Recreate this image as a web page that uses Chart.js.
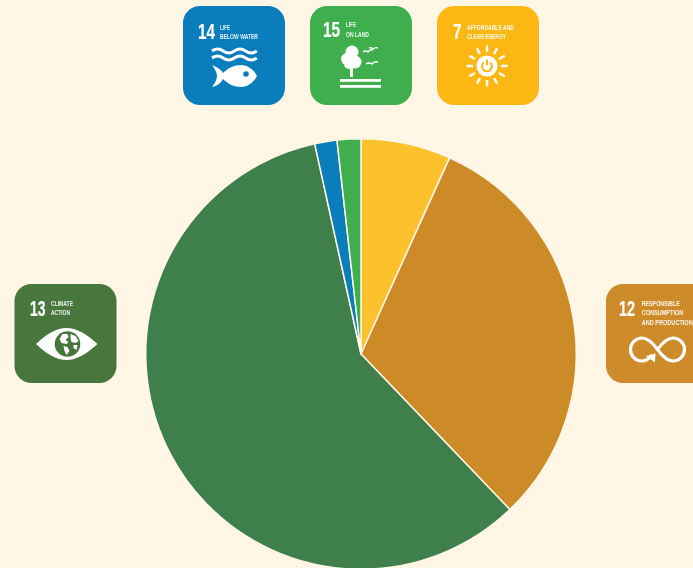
<!DOCTYPE html>
<html><head><meta charset="utf-8">
<script src="https://cdn.jsdelivr.net/npm/chart.js@4"></script>
<style>
html,body{margin:0;padding:0;width:693px;height:568px;overflow:hidden;background:#FFF6E5}
#c{position:absolute;left:0;top:0}
#tiles{position:absolute;left:0;top:0}
.n{font:bold 22px "Liberation Sans Narrow","Liberation Sans",sans-serif;fill:#fff;stroke:#fff;stroke-width:.2}
.l{font:bold 8px "Liberation Sans Narrow","Liberation Sans",sans-serif;fill:#fff;fill-opacity:.9}
</style></head><body>
<canvas id="c" width="693" height="600"></canvas>
<svg id="tiles" width="693" height="568" viewBox="0 0 693 568">
 <!-- 14 -->
 <g transform="translate(183,6)">
  <rect width="102" height="99" rx="17" fill="#0A7DBD"/>
  <text class="n" x="15" y="33" textLength="17" lengthAdjust="spacingAndGlyphs">14</text>
  <text class="l" x="37" y="24" textLength="10" lengthAdjust="spacingAndGlyphs">LIFE</text>
  <text class="l" x="37" y="33" textLength="38" lengthAdjust="spacingAndGlyphs">BELOW WATER</text>
  <path d="M29 45q5.6-4 11.2 0t11.2 0 11.2 0 11.2 0M29 52q5.6-4 11.2 0t11.2 0 11.2 0 11.2 0" fill="none" stroke="#fff" stroke-width="2.8"/>
  <path d="M29 59q8 3 11 8c5-5 11-8 18-8 7 0 13 5 16 11-3 6-9 11-16 11-7 0-13-3-18-8-3 5-6 7-11 8 3-4 5-8 5-11 0-3-2-7-5-11z" fill="#fff"/>
  <circle cx="63" cy="68" r="2.8" fill="#0A7DBD"/>
 </g>
 <!-- 15 -->
 <g transform="translate(310,6)">
  <rect width="102" height="99" rx="17" fill="#3FAF4E"/>
  <text class="n" x="13" y="31" textLength="17" lengthAdjust="spacingAndGlyphs">15</text>
  <text class="l" x="36" y="21" textLength="10" lengthAdjust="spacingAndGlyphs">LIFE</text>
  <text class="l" x="36" y="31" textLength="23" lengthAdjust="spacingAndGlyphs">ON LAND</text>
  <circle cx="42" cy="46" r="6.5" fill="#fff"/><circle cx="37" cy="53" r="6" fill="#fff"/><circle cx="45" cy="56" r="6.5" fill="#fff"/><circle cx="39" cy="58" r="5" fill="#fff"/>
  <rect x="40" y="62" width="3" height="9" fill="#fff"/>
  <rect x="30" y="73" width="41" height="2.8" fill="#fff"/><rect x="30" y="79" width="41" height="2.8" fill="#fff"/>
  <path d="M53 46q3-2 5 0 2-3 5-2M59 42q3-1 4 1 2-2 5-1M56 58q3-2 6 0 2-3 6-2" fill="none" stroke="#fff" stroke-width="1.4"/>
 </g>
 <!-- 7 -->
 <g transform="translate(437,6)">
  <rect width="102" height="99" rx="17" fill="#FDB713"/>
  <text class="n" x="16" y="33" textLength="8.500" lengthAdjust="spacingAndGlyphs">7</text>
  <text class="l" x="30" y="23.5" textLength="47" lengthAdjust="spacingAndGlyphs">AFFORDABLE AND</text>
  <text class="l" x="30" y="32.5" textLength="39" lengthAdjust="spacingAndGlyphs">CLEAN ENERGY</text>
  <g fill="none" stroke="#fff" stroke-width="2.4" transform="translate(50,60)">
   <path d="M0-14V-20.5M7-12.1L10.2-17.7M12.1-7L17.7-10.2M14 0H20.5M12.1 7L17.7 10.2M7 12.1L10.2 17.7M0 14V20.5M-7 12.1L-10.2 17.7M-12.1 7L-17.7 10.2M-14 0H-20.5M-12.1-7L-17.7-10.2M-7-12.1L-10.2-17.7"/>
  </g>
  <circle cx="50" cy="60" r="10.5" fill="#fff"/>
  <path d="M46.7 56.5a5 5 0 1 0 6.6 0M50 53.5v6" fill="none" stroke="#FDB713" stroke-width="2"/>
 </g>
 <!-- 13 -->
 <g transform="translate(14.5,284)">
  <rect width="102" height="99" rx="17" fill="#48773E"/>
  <text class="n" x="15.500" y="32" textLength="15.500" lengthAdjust="spacingAndGlyphs">13</text>
  <text class="l" x="36.5" y="21.5" textLength="22" lengthAdjust="spacingAndGlyphs">CLIMATE</text>
  <text class="l" x="36.5" y="31" textLength="19" lengthAdjust="spacingAndGlyphs">ACTION</text>
  <path d="M21.500 60C32 50 42 44 52 44s20 6 31 16C72 70 62 76 52 76s-20-6-30.500-16z" fill="#fff"/>
  <circle cx="53" cy="60" r="12.8" fill="#48773E"/>
  <path d="M48 50l5 0 1 3-3 3 3 2-2 2-5-1-2-4zM56 50l5 2 3 5-3 2-4-1-1-4zM49 62l4 1 2 4-3 4-2-4zM59 61l4 0-1 5-3-2z" fill="#fff"/>
 </g>
 <!-- 12 -->
 <g transform="translate(606,284)">
  <rect width="102" height="99" rx="17" fill="#CD8B2A"/>
  <text class="n" x="13" y="32" textLength="16" lengthAdjust="spacingAndGlyphs">12</text>
  <text class="l" x="35.700" y="21.500" textLength="38" lengthAdjust="spacingAndGlyphs">RESPONSIBLE</text>
  <text class="l" x="35.700" y="31" textLength="41.600" lengthAdjust="spacingAndGlyphs">CONSUMPTION</text>
  <text class="l" x="35.700" y="41" textLength="51" lengthAdjust="spacingAndGlyphs">AND PRODUCTION</text>
  <path d="M46 71c-3 4-6 6-10 6a11.500 11.500 0 0 1 0-23c5 0 10 4 15.500 11.500S62 77 67 77a11.500 11.500 0 0 0 0-23c-5 0-10 4-15.500 11.500" fill="none" stroke="#fff" stroke-width="3.200"/>
  <path d="M40 72l9.500-2.500-.5 9z" fill="#fff"/>
 </g>
</svg>
<script>
const categories = ["SDG 7 Affordable and Clean Energy","SDG 12 Responsible Consumption and Production","SDG 13 Climate Action","SDG 14 Life Below Water","SDG 15 Life on Land"];
const values = [6.75, 31.1, 58.7, 1.67, 1.78];
const colors = ["#FCC22D","#CD8B28","#3F7F4C","#0A7DBB","#3FAE4D"];

new Chart(document.getElementById("c"),{
  type:"pie",
  data:{labels:categories,datasets:[{data:values,backgroundColor:colors,borderColor:"#FFF6E5",borderWidth:1.5}]},
  options:{
    responsive:false,animation:false,
    layout:{padding:{left:145,right:116,top:138,bottom:30}},
    plugins:{legend:{display:false},tooltip:{enabled:false}}
  }
});
</script>
</body></html>
